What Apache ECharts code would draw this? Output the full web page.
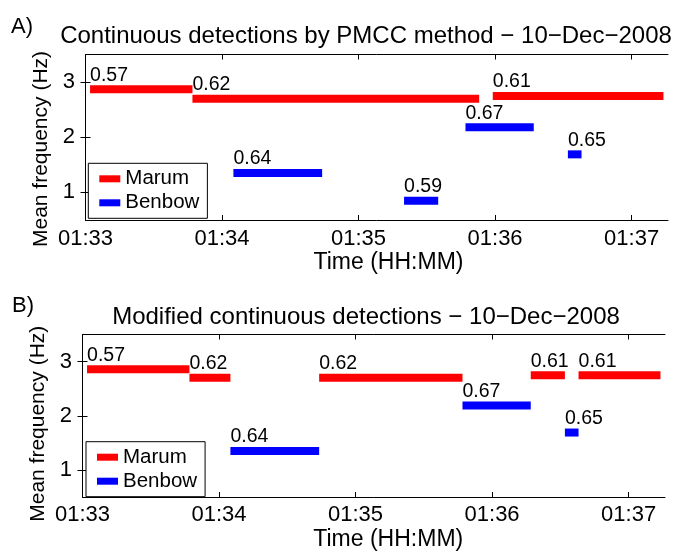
<!DOCTYPE html>
<html><head><meta charset="utf-8">
<script src="https://cdn.jsdelivr.net/npm/echarts@6/dist/echarts.min.js"></script>
<style>html,body{margin:0;padding:0;background:#fff}#c{width:675px;height:552px}</style>
</head><body><div id="c"></div>
<script>
// Time axis: seconds after 01:33:00
const tickValues = [0, 60, 120, 180, 240];
const tickLabels = ['01:33', '01:34', '01:35', '01:36', '01:37'];
const yTickValues = [1, 2, 3];
const timeMin = 0, timeMax = 256;
const freqMin = 0.5, freqMax = 3.5;

const titleA = 'Continuous detections by PMCC method − 10−Dec−2008';
const titleB = 'Modified continuous detections − 10−Dec−2008';
const panelLabels = ['A)', 'B)'];
const xName = 'Time (HH:MM)';
const yName = 'Mean frequency (Hz)';
const seriesNames = ['Marum', 'Benbow'];

// Panel A
const marumA_start = [2, 47, 179];
const marumA_end   = [47, 173, 254];
const marumA_freq  = [2.87, 2.70, 2.75];
const marumA_value = [0.57, 0.62, 0.61];

const benbowA_start = [65, 140, 167, 212];
const benbowA_end   = [104, 155, 197, 218];
const benbowA_freq  = [1.35, 0.85, 2.18, 1.69];
const benbowA_value = [0.64, 0.59, 0.67, 0.65];

// Panel B
const marumB_start = [2, 47, 104, 197, 218];
const marumB_end   = [47, 65, 167, 212, 254];
const marumB_freq  = [2.86, 2.70, 2.70, 2.75, 2.75];
const marumB_value = [0.57, 0.62, 0.62, 0.61, 0.61];

const benbowB_start = [65, 167, 212];
const benbowB_end   = [104, 197, 218];
const benbowB_freq  = [1.35, 2.19, 1.69];
const benbowB_value = [0.64, 0.67, 0.65];

function rows(s, e, f, v) { return s.map((x, i) => [x, e[i], f[i], v[i]]); }

const FONT = "'Liberation Sans', Arial, Helvetica, sans-serif";
const RED = '#ff0000', BLUE = '#0000ff';

function renderSeg(params, api) {
  const s = api.value(0), e = api.value(1), f = api.value(2), v = api.value(3);
  const p0 = api.coord([s, f]);
  const p1 = api.coord([e, f]);
  const h = 8;
  return {
    type: 'group',
    children: [
      { type: 'rect', shape: { x: p0[0], y: p0[1] - h / 2, width: p1[0] - p0[0], height: h },
        style: { fill: api.visual('color') } },
      { type: 'text', x: p0[0], y: p0[1] - 14,
        style: { text: v.toFixed(2), fill: '#000', fontSize: 19.5, fontFamily: FONT,
                 align: 'left', verticalAlign: 'middle' } }
    ]
  };
}

const grids = [
  { left: 85.5, top: 54.5, width: 582.5, height: 165.5 },
  { left: 82.5, top: 334.5, width: 582.5, height: 165 }
];

const axLine = { show: true, lineStyle: { color: '#000', width: 1 } };
const tickIn = { show: true, inside: true, length: 5, lineStyle: { color: '#000', width: 1 } };

function xAx(gi, pos, withLabels, nameGap, namePadLeft) {
  const ax = {
    type: 'value', gridIndex: gi, position: pos, min: timeMin, max: timeMax,
    axisLine: axLine, splitLine: { show: false },
    axisTick: Object.assign({}, tickIn, { customValues: tickValues }),
    axisLabel: withLabels ? {
      show: true, margin: gi === 0 ? 8 : 7, customValues: tickValues,
      formatter: v => tickLabels[tickValues.indexOf(v)],
      fontSize: 22, fontFamily: FONT, color: '#000'
    } : { show: false }
  };
  if (withLabels) {
    ax.name = xName; ax.nameLocation = 'middle'; ax.nameGap = nameGap;
    ax.nameTextStyle = { fontSize: 23, fontFamily: FONT, color: '#000', padding: [0, 0, 0, namePadLeft] };
  }
  return ax;
}
function yAx(gi, pos, withLabels, namePadRight) {
  const ax = {
    type: 'value', gridIndex: gi, position: pos, min: freqMin, max: freqMax,
    axisLine: axLine, splitLine: { show: false },
    axisTick: Object.assign({}, tickIn, { customValues: yTickValues }),
    axisLabel: withLabels ? {
      show: true, margin: 10.5, customValues: yTickValues, padding: [5, 0, 0, 0],
      fontSize: 22, fontFamily: FONT, color: '#000'
    } : { show: false }
  };
  if (withLabels) {
    ax.name = yName; ax.nameLocation = 'middle'; ax.nameGap = 31;
    ax.nameTextStyle = { fontSize: 21, fontFamily: FONT, color: '#000', padding: [0, namePadRight, 0, 0] };
  }
  return ax;
}

function legendAt(left, top) {
  return {
    data: seriesNames, orient: 'vertical', left: left, top: top,
    icon: 'rect', itemWidth: 21, itemHeight: 7, itemGap: 3,
    padding: [5, 8, 5, 11], borderColor: '#000', borderWidth: 1, backgroundColor: '#fff',
    selectedMode: false,
    textStyle: { fontSize: 20.5, fontFamily: FONT, color: '#000', lineHeight: 20 }
  };
}

function titleAt(text, left, top, size, align) {
  return { text: text, left: left, top: top, padding: 0, textAlign: align,
    textStyle: { fontSize: size, fontWeight: 'normal', fontFamily: FONT, color: '#000' } };
}

const option = {
  animation: false,
  backgroundColor: '#fff',
  title: [
    titleAt(titleA, 366, 24.5, 24, 'center'),
    titleAt(panelLabels[0], 11, 15.5, 22, 'left'),
    titleAt(titleB, 366, 305, 24, 'center'),
    titleAt(panelLabels[1], 12, 295, 22, 'left')
  ],
  grid: grids,
  legend: [legendAt(88.3, 163.3), legendAt(86, 441.7)],
  xAxis: [
    xAx(0, 'bottom', true, 24, 23.5),
    xAx(0, 'top', false),
    xAx(1, 'bottom', true, 31, 29),
    xAx(1, 'top', false)
  ],
  yAxis: [
    yAx(0, 'left', true, 23.5),
    yAx(0, 'right', false),
    yAx(1, 'left', true, 16),
    yAx(1, 'right', false)
  ],
  series: [
    { name: seriesNames[0], type: 'custom', xAxisIndex: 0, yAxisIndex: 0, clip: false,
      itemStyle: { color: RED }, renderItem: renderSeg, encode: { x: [0, 1], y: 2 },
      data: rows(marumA_start, marumA_end, marumA_freq, marumA_value) },
    { name: seriesNames[1], type: 'custom', xAxisIndex: 0, yAxisIndex: 0, clip: false,
      itemStyle: { color: BLUE }, renderItem: renderSeg, encode: { x: [0, 1], y: 2 },
      data: rows(benbowA_start, benbowA_end, benbowA_freq, benbowA_value) },
    { name: seriesNames[0], type: 'custom', xAxisIndex: 2, yAxisIndex: 2, clip: false,
      itemStyle: { color: RED }, renderItem: renderSeg, encode: { x: [0, 1], y: 2 },
      data: rows(marumB_start, marumB_end, marumB_freq, marumB_value) },
    { name: seriesNames[1], type: 'custom', xAxisIndex: 2, yAxisIndex: 2, clip: false,
      itemStyle: { color: BLUE }, renderItem: renderSeg, encode: { x: [0, 1], y: 2 },
      data: rows(benbowB_start, benbowB_end, benbowB_freq, benbowB_value) }
  ]
};

const chart = echarts.init(document.getElementById('c'));
chart.setOption(option);
</script>
</body></html>
